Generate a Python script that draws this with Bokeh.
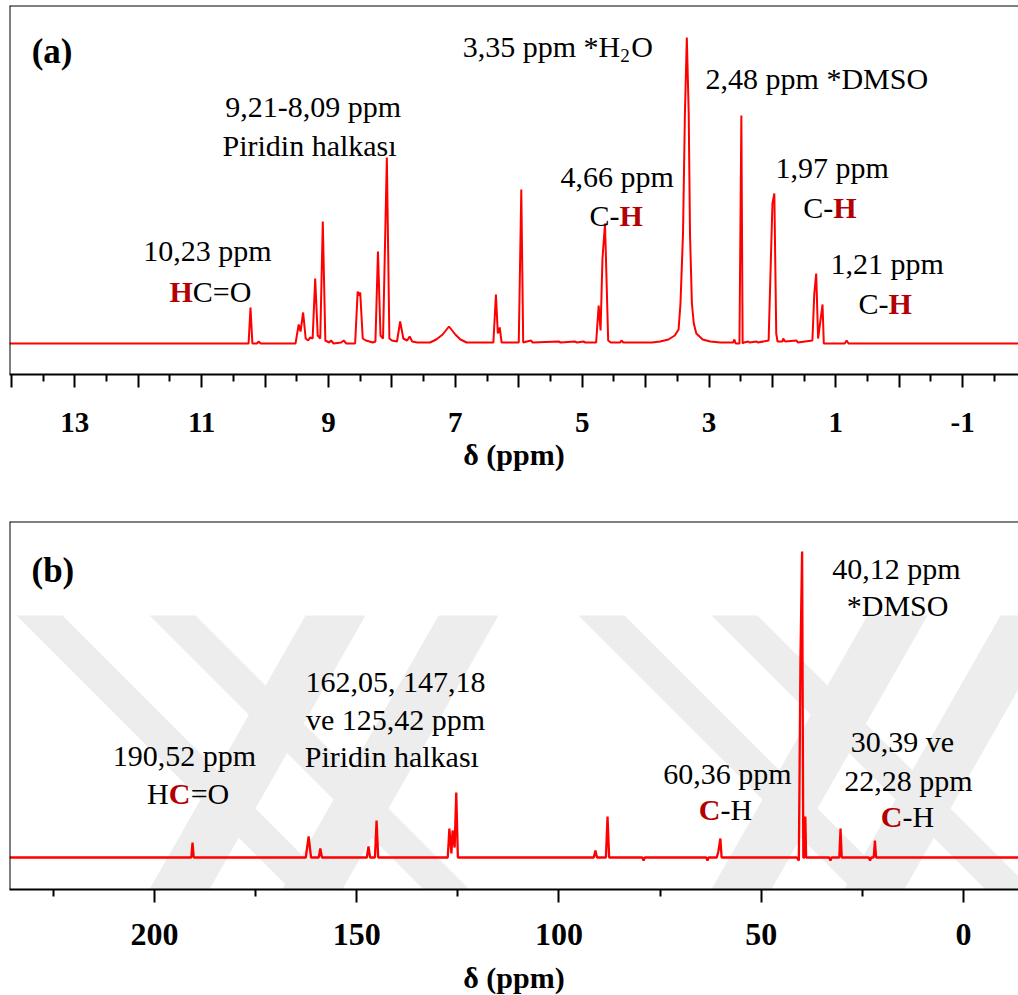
from bokeh.plotting import figure
from bokeh.models import Range1d, FixedTicker, Span, Label, ColumnDataSource, PolyAnnotation
from bokeh.layouts import column
from bokeh.embed import file_html
from bokeh.resources import INLINE

FONT = "Liberation Serif"
LINE_RED = "#ff0000"
DARK_RED = "#b40000"

# ---------------- (a) 1H NMR spectrum, vertices ----------------
h1_ppm = [14.03,
          10.26, 10.23, 10.20, 10.13, 10.10, 10.07,
          9.52, 9.47, 9.44, 9.40, 9.36, 9.32, 9.29, 9.25, 9.21, 9.17, 9.13, 9.09, 9.05,
          8.99, 8.96, 8.92, 8.80, 8.76, 8.72,
          8.58, 8.54, 8.52, 8.50, 8.46, 8.41, 8.30,
          8.26, 8.22, 8.18, 8.14, 8.08, 8.04, 8.00,
          7.92, 7.87, 7.82, 7.76, 7.72, 7.68, 7.60,
          7.40, 7.30, 7.20, 7.10, 7.00, 6.92, 6.82,
          6.60, 6.40, 6.36, 6.33, 6.30, 6.27,
          6.00, 5.96, 5.93,
          5.81, 5.78, 5.37, 5.34, 5.12, 5.08, 4.98, 4.95,
          4.78, 4.74, 4.71, 4.68, 4.64, 4.59, 4.55,
          4.40, 4.38, 4.35,
          3.90, 3.77, 3.64, 3.54, 3.48, 3.45, 3.41, 3.38, 3.35, 3.32, 3.30, 3.27, 3.24,
          3.20, 3.10, 2.98, 2.82,
          2.62, 2.60, 2.58, 2.52, 2.49, 2.47, 2.45,
          2.38, 2.36, 2.25, 2.23,
          2.06, 2.00, 1.97, 1.94, 1.92,
          1.84, 1.83, 1.80, 1.62, 1.60,
          1.37, 1.34, 1.31, 1.28, 1.21, 1.19,
          0.86, 0.83, 0.80,
          -1.88]
h1_intensity = [0,
                0, 36, 0, 0, 2, 0,
                0, 19, 12, 31, 5, 3, 6, 5, 65, 8, 5, 122, 3,
                1, 3, 0, 1, 3, 0,
                0, 52, 48, 51, 5, 3, 1,
                2, 92, 8, 5, 186, 5, 3,
                2, 22, 5, 3, 7, 2, 1,
                1, 4, 9, 17, 9, 4, 1,
                1, 1, 49, 10, 16, 1,
                1, 154, 1,
                3, 1, 2, 1, 2, 1, 2, 1,
                1, 38, 13, 85, 120, 3, 1,
                1, 3, 1,
                1, 2, 4, 8, 14, 40, 110, 230, 306, 230, 110, 40, 20,
                10, 4, 2, 1,
                1, 4, 0, 0, 228, 0, 1,
                2, 1, 2, 1,
                3, 140, 150, 10, 2,
                2, 5, 2, 3, 1,
                3, 50, 70, 5, 39, 0,
                0, 3, 0,
                0]

h1_major_ticks = [14, 13, 12, 11, 10, 9, 8, 7, 6, 5, 4, 3, 2, 1, 0, -1]
h1_minor_ticks = [13.5, 12.5, 11.5, 10.5, 9.5, 8.5, 7.5, 6.5, 5.5, 4.5, 3.5, 2.5, 1.5, 0.5, -0.5, -1.5]
h1_tick_labels = {14: "", 13: "13", 12: "", 11: "11", 10: "", 9: "9", 8: "", 7: "7",
                  6: "", 5: "5", 4: "", 3: "3", 2: "", 1: "1", 0: "", -1: "-1"}

# ---------------- (b) 13C NMR spectrum ----------------
c13_ppm = [235.85,
           190.9, 190.6, 190.3,
           162.6, 161.9, 161.3,
           159.4, 159.0, 158.6,
           147.5, 147.1, 146.7,
           145.5, 145.1, 144.7,
           127.5, 127.1, 126.6, 126.3, 125.8, 125.4, 125.0,
           91.4, 91.0, 90.6,
           88.4, 88.0, 87.6,
           79.4, 79.1, 78.8,
           63.6, 63.3, 63.0,
           61.0, 60.6, 60.1, 59.8,
           41.2, 40.7, 40.3, 39.9, 39.6, 39.3, 39.1, 38.9,
           33.2, 32.9, 32.6,
           30.7, 30.4, 30.1,
           23.4, 23.1, 22.8,
           22.2, 21.9, 21.6,
           -13.6]
c13_intensity = [0,
                 0, 15, 0,
                 0, 21, 0,
                 0, 9, 0,
                 0, 11, 0,
                 0, 37, 0,
                 0, 29, 4, 27, 10, 65, 0,
                 0, 7, 0,
                 0, 41, 0,
                 0, -3, 0,
                 0, -3, 0,
                 0, 6, 19, 0,
                 0, -3, 200, 306, 0, 0, 41, 0,
                 0, -3, 0,
                 0, 29, 0,
                 0, -3, 0,
                 0, 17, 0,
                 0]

c13_major_ticks = [200, 150, 100, 50, 0]
c13_minor_ticks = [225, 175, 125, 75, 25]

# light grey page watermark behind panel (b): diagonal bands in canvas pixels of panel (b)
# (left x at top, right x at top, horizontal shift per pixel going down)
WM_TOP, WM_FRAME_BOTTOM, WM_BOTTOM = 115, 389, 495
watermark_bands = [(16, 62, 1.0), (149, 195, 1.0), (578, 624, 1.0), (711, 757, 1.0),
                   (305, 365, -0.57), (438, 498, -0.57), (867, 927, -0.57), (1000, 1060, -0.57)]

TXT = "30px"


def make_panel(x_lo, x_hi, y_lo, y_hi, frame_h, top, bottom, tick_size, label_standoff, axis_standoff):
    p = figure(frame_width=1009, frame_height=frame_h,
               x_range=Range1d(x_lo, x_hi), y_range=Range1d(y_lo, y_hi),
               output_backend="svg", toolbar_location=None,
               min_border_left=9, min_border_right=0,
               min_border_top=top, min_border_bottom=bottom,
               y_axis_location=None)
    p.outline_line_color = None
    p.grid.visible = False
    p.background_fill_color = "white"
    p.border_fill_color = "white"
    ax = p.xaxis[0]
    ax.axis_line_color = "black"
    ax.axis_line_width = 2
    ax.major_tick_in = 0
    ax.major_tick_out = 13
    ax.minor_tick_in = 0
    ax.minor_tick_out = 7
    ax.major_tick_line_width = 2
    ax.minor_tick_line_width = 2
    ax.major_tick_line_color = "black"
    ax.minor_tick_line_color = "black"
    ax.major_label_text_font = FONT
    ax.major_label_text_font_size = tick_size
    ax.major_label_text_font_style = "bold"
    ax.major_label_text_color = "black"
    ax.major_label_standoff = label_standoff
    ax.axis_label = "δ (ppm)"
    ax.axis_label_text_font = FONT
    ax.axis_label_text_font_size = "30px"
    ax.axis_label_text_font_style = "bold"
    ax.axis_label_text_color = "black"
    ax.axis_label_standoff = axis_standoff
    p.add_layout(Span(location=x_lo, dimension="height", line_color="black", line_width=2))
    p.add_layout(Span(location=y_hi, dimension="width", line_color="black", line_width=2))
    return p


def put(p, x, y, text, size=TXT, bold=False, color="black", align="center", dx=0):
    p.add_layout(Label(x=x, y=y, text=text, text_font=FONT, text_font_size=size,
                       text_font_style="bold" if bold else "normal", text_color=color,
                       text_align=align, text_baseline="middle", x_offset=dx))


# ---------- panel (a) ----------
pa = make_panel(14.03, -1.88, -31, 338, 369, 5, 126, "29px", 25, 3)
pa.xaxis[0].ticker = FixedTicker(ticks=h1_major_ticks, minor_ticks=h1_minor_ticks)
pa.xaxis[0].major_label_overrides = h1_tick_labels
src_a = ColumnDataSource(dict(x=h1_ppm, y=h1_intensity))
pa.line("x", "y", source=src_a, line_color=LINE_RED, line_width=2)

put(pa, 13.68, 292, "(a)", size="35px", bold=True, align="left")
put(pa, 9.24, 237, "9,21-8,09 ppm")
put(pa, 9.24, 198, "Piridin  halkası")
put(pa, 10.91, 93, "10,23 ppm")
put(pa, 11.14, 52, "H", bold=True, color=DARK_RED, align="right")
put(pa, 11.14, 52, "C=O", align="left")
put(pa, 4.40, 297, "3,35 ppm *H", align="right")
put(pa, 4.40, 288, "2", size="19px", align="left")
put(pa, 4.40, 297, "O", align="left", dx=11)
put(pa, 1.30, 265, "2,48 ppm *DMSO")
put(pa, 4.45, 167, "4,66 ppm")
put(pa, 4.41, 128, "C-", align="right")
put(pa, 4.41, 128, "H", bold=True, color=DARK_RED, align="left")
put(pa, 1.06, 176, "1,97 ppm")
put(pa, 1.04, 136, "C-", align="right")
put(pa, 1.04, 136, "H", bold=True, color=DARK_RED, align="left")
put(pa, 0.19, 80, "1,21 ppm")
put(pa, 0.17, 40, "C-", align="right")
put(pa, 0.17, 40, "H", bold=True, color=DARK_RED, align="left")

# ---------- panel (b) ----------
pb = make_panel(235.85, -13.6, -32, 336, 368, 21, 106, "32px", 21, 13)
pb.xaxis[0].ticker = FixedTicker(ticks=c13_major_ticks, minor_ticks=c13_minor_ticks)


def band_poly(xl, xr, d, y0, y1):
    return ([xl + d * (y0 - WM_TOP), xr + d * (y0 - WM_TOP), xr + d * (y1 - WM_TOP), xl + d * (y1 - WM_TOP)],
            [y0, y0, y1, y1])


for xl, xr, d in watermark_bands:
    xs, ys = band_poly(xl, xr, d, WM_TOP, WM_FRAME_BOTTOM)
    pb.add_layout(PolyAnnotation(xs=xs, ys=ys, xs_units="canvas", ys_units="canvas",
                                 fill_color="#ededed", fill_alpha=1.0, line_color=None, level="underlay"))
    xs, ys = band_poly(xl, xr, d, WM_FRAME_BOTTOM + 1, WM_BOTTOM)
    pb.add_layout(PolyAnnotation(xs=xs, ys=ys, xs_units="canvas", ys_units="canvas",
                                 fill_color="black", fill_alpha=0.07, line_color=None, level="overlay"))

src_b = ColumnDataSource(dict(x=c13_ppm, y=c13_intensity))
pb.line("x", "y", source=src_b, line_color=LINE_RED, line_width=2.3)

put(pb, 230.41, 287, "(b)", size="35px", bold=True, align="left")
put(pb, 140.4, 176, "162,05, 147,18")
put(pb, 140.4, 138, "ve 125,42 ppm")
put(pb, 140.4, 101, "Piridin  halkası")
put(pb, 192.6, 102, "190,52 ppm")
put(pb, 196.5, 64, "H", align="right")
put(pb, 196.5, 64, "C", bold=True, color=DARK_RED, align="left")
put(pb, 196.5, 64, "=O", align="left", dx=22)
put(pb, 58.35, 84, "60,36 ppm")
put(pb, 60.07, 48, "C", bold=True, color=DARK_RED, align="right")
put(pb, 60.07, 48, "-H", align="left")
put(pb, 16.57, 289, "40,12 ppm")
put(pb, 16.3, 252, "*DMSO")
put(pb, 15.1, 116, "30,39 ve")
put(pb, 13.6, 77, "22,28 ppm")
put(pb, 15.1, 41, "C", bold=True, color=DARK_RED, align="right")
put(pb, 15.1, 41, "-H", align="left")

layout = column(pa, pb, spacing=0)
open("out.html", "w").write(file_html(layout, INLINE))
